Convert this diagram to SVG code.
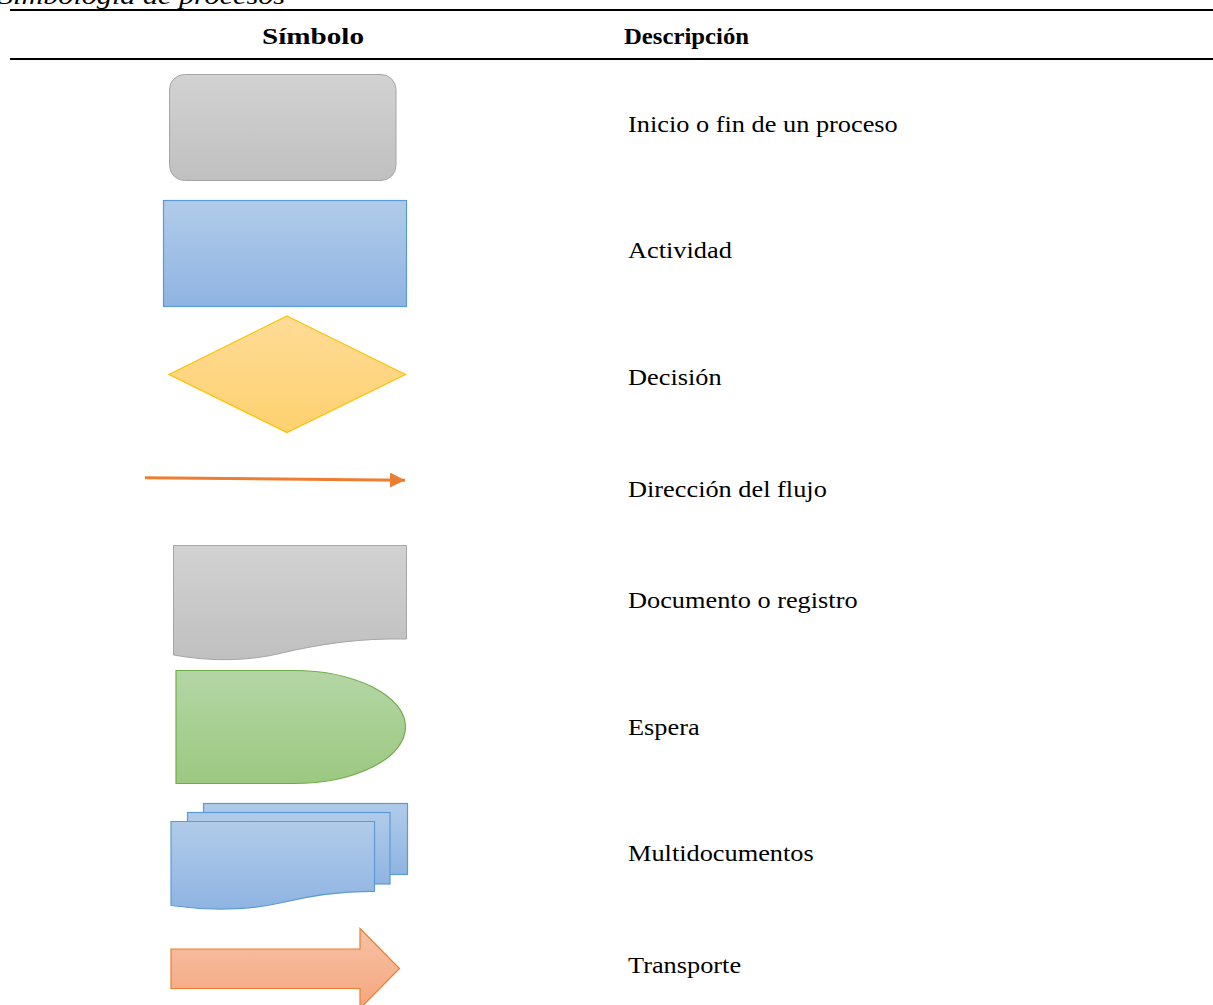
<svg xmlns="http://www.w3.org/2000/svg" width="1213" height="1005" viewBox="0 0 1213 1005">
<style>
.t{font-family:"Liberation Serif","Times New Roman",serif;font-size:24px;fill:#000}
.b{font-weight:bold}
.rule{stroke:#000;stroke-width:2;fill:none}
</style>
<defs>
<linearGradient id="gGray" x1="0" y1="0" x2="0" y2="1"><stop offset="0" stop-color="#d2d2d2"/><stop offset="1" stop-color="#c0c0c0"/></linearGradient>
<linearGradient id="gBlue" x1="0" y1="0" x2="0" y2="1"><stop offset="0" stop-color="#b1cbe9"/><stop offset="1" stop-color="#8fb4e2"/></linearGradient>
<linearGradient id="gYel" x1="0" y1="0" x2="0" y2="1"><stop offset="0" stop-color="#fedc97"/><stop offset="1" stop-color="#fed16f"/></linearGradient>
<linearGradient id="gGreen" x1="0" y1="0" x2="0" y2="1"><stop offset="0" stop-color="#b4d6a5"/><stop offset="1" stop-color="#9cc881"/></linearGradient>
<linearGradient id="gOr" x1="0" y1="0" x2="0" y2="1"><stop offset="0" stop-color="#f7c1a5"/><stop offset="1" stop-color="#f4a77d"/></linearGradient>
<marker id="ah" viewBox="0 0 10 10" refX="10" refY="5" markerWidth="5" markerHeight="5" markerUnits="strokeWidth" orient="auto"><path d="M0,0 L10,5 L0,10 Z" fill="#ed7d31"/></marker>
</defs>
<text class="t" x="-2" y="4" font-style="italic" textLength="287" lengthAdjust="spacingAndGlyphs">Simbología de procesos</text>
<line class="rule" x1="10" y1="10" x2="1213" y2="10"/>
<line class="rule" x1="10" y1="59" x2="1213" y2="59"/>
<text class="t b" x="262" y="44" textLength="102" lengthAdjust="spacingAndGlyphs">Símbolo</text>
<text class="t b" x="624" y="44" textLength="125" lengthAdjust="spacingAndGlyphs">Descripción</text>

<g id="inicio-fin">
<rect x="169.5" y="74.5" width="226.5" height="106" rx="15" fill="url(#gGray)" stroke="#a5a5a5" stroke-width="1"/>
</g>
<g id="actividad">
<rect x="163.5" y="200.5" width="243" height="106" fill="url(#gBlue)" stroke="#5b9bd5" stroke-width="1.2"/>
</g>
<g id="decision">
<polygon points="287,316 405.5,374.5 287,432.5 169,374.5" fill="url(#gYel)" stroke="#ffc000" stroke-width="1.2"/>
</g>
<g id="connectors">
<line x1="145" y1="477.8" x2="405" y2="480.2" stroke="#ed7d31" stroke-width="3" marker-end="url(#ah)"/>
</g>
<g id="documento">
<path d="M173.5,545.5 H406.5 V639 C360,638 320,644 282,653 C250,661 212,662 173.5,655 Z" fill="url(#gGray)" stroke="#a5a5a5" stroke-width="1"/>
</g>
<g id="espera">
<path d="M176,670.5 H293 A112.5,56.5 0 0 1 293,783.5 H176 Z" fill="url(#gGreen)" stroke="#70ad47" stroke-width="1.2"/>
</g>
<g id="multidocumentos">
<rect x="203.5" y="803.5" width="204" height="71" fill="url(#gBlue)" stroke="#5b9bd5" stroke-width="1.2"/>
<rect x="187.5" y="812.5" width="202.5" height="71.5" fill="url(#gBlue)" stroke="#5b9bd5" stroke-width="1.2"/>
<path d="M171,821.5 H374.5 V891.5 C340,891 305,897 280,903 C250,910 210,911 171,905.5 Z" fill="url(#gBlue)" stroke="#5b9bd5" stroke-width="1.2"/>
</g>
<g id="transporte">
<polygon points="171,949 360,949 360,928.5 399.5,968.5 360,1008.5 360,988.5 171,988.5" fill="url(#gOr)" stroke="#ed7d31" stroke-width="1.2"/>
</g>

<g id="descripciones" transform="matrix(1.097,0,0,1,628,0)">
<text class="t" x="0" y="132">Inicio o fin de un proceso</text>
<text class="t" x="0" y="258">Actividad</text>
<text class="t" x="0" y="385">Decisión</text>
<text class="t" x="0" y="497">Dirección del flujo</text>
<text class="t" x="0" y="608">Documento o registro</text>
<text class="t" x="0" y="735">Espera</text>
<text class="t" x="0" y="861">Multidocumentos</text>
<text class="t" x="0" y="973">Transporte</text>
</g>
</svg>
